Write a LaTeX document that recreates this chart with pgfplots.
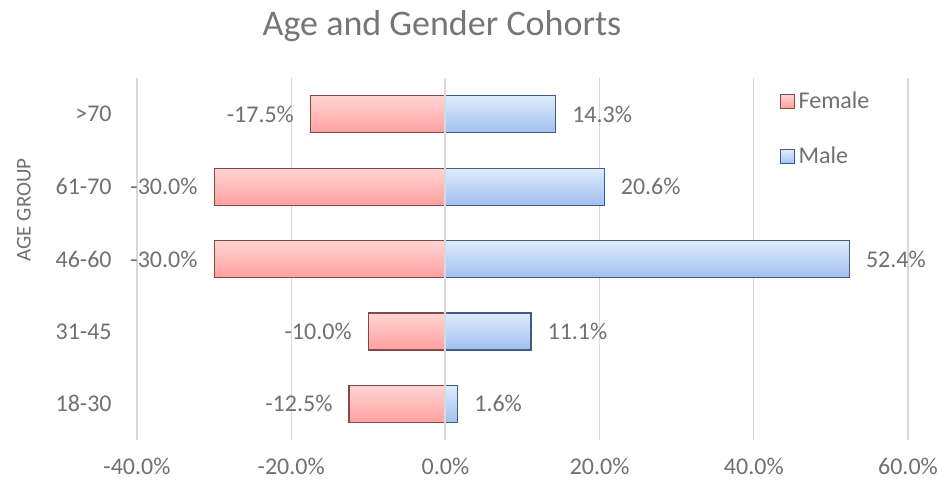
\documentclass[border=0pt]{standalone}
\usepackage{fontspec}
\setmainfont{Carlito}
\usepackage{pgfplots}
\pgfplotsset{compat=1.18}

\definecolor{txt}{RGB}{112,112,112}
\definecolor{ttl}{RGB}{118,118,118}
\definecolor{gridc}{RGB}{217,217,217}
\definecolor{fTop}{RGB}{255,212,212}
\definecolor{fBot}{RGB}{255,160,160}
\definecolor{fEdge}{RGB}{135,72,72}
\definecolor{mTop}{RGB}{224,236,252}
\definecolor{mBot}{RGB}{160,192,240}
\definecolor{mEdge}{RGB}{65,92,130}

\pgfplotsset{
  fbar/.style={bar shift=0pt, draw=fEdge, line width=0.6pt, top color=fTop, bottom color=fBot,
    every node near coord/.append style={anchor=east, xshift=-8pt}},
  mbar/.style={bar shift=0pt, draw=mEdge, line width=0.6pt, top color=mTop, bottom color=mBot,
    every node near coord/.append style={anchor=west, xshift=8pt}},
}

\begin{document}
\begin{tikzpicture}
  % 1px of the reference = 0.5pt, plot area lower left at (0,0)
  \useasboundingbox (-68.5pt,-22pt) rectangle (404.5pt,220pt);
  \begin{axis}[
      scale only axis,
      width=385.5pt,
      height=181pt,
      xbar,
      bar width=18.5pt,
      xmin=-40, xmax=60,
      ymin=-0.5, ymax=4.5,
      xtick={-40,-20,0,20,40,60},
      ytick={0,1,2,3,4},
      yticklabels={18-30,31-45,46-60,61-70,>70},
      axis line style={draw=none},
      major tick length=0pt,
      xmajorgrids,
      grid style={gridc, line width=0.6pt},
      /pgf/number format/assume math mode=true,
      xticklabel={\pgfmathprintnumber[fixed,fixed zerofill,precision=1]{\tick}\%},
      x tick label style={font=\fontsize{12}{14}\selectfont, text=txt, inner sep=0pt, anchor=north, yshift=-9pt},
      y tick label style={font=\fontsize{12}{14}\selectfont, text=txt, inner sep=0pt, anchor=east, xshift=-12.5pt},
      point meta=explicit symbolic,
      nodes near coords,
      nodes near coords style={font=\fontsize{12}{14}\selectfont, text=txt, inner sep=0pt},
      legend image code/.code={\draw[#1, line width=0.5pt] (0pt,-3.5pt) rectangle (7pt,3.5pt);},
      legend style={at={(rel axis cs:0.833,0.975)}, anchor=north west, draw=none, fill=none,
        inner sep=0pt, font=\fontsize{12}{14}\selectfont, text=txt, row sep=14pt,
        cells={anchor=west}},
      clip=false,
    ]
    % one plot per bar so that each bar gets its own gradient
    \addplot[fbar] coordinates {(-17.5,4) [-17.5\%]};
    \addplot[mbar] coordinates {(14.3,4) [14.3\%]};
    \addplot[fbar, forget plot] coordinates {(-30.0,3) [-30.0\%]};
    \addplot[mbar, forget plot] coordinates {(20.6,3) [20.6\%]};
    \addplot[fbar, forget plot] coordinates {(-30.0,2) [-30.0\%]};
    \addplot[mbar, forget plot] coordinates {(52.4,2) [52.4\%]};
    \addplot[fbar, forget plot] coordinates {(-10.0,1) [-10.0\%]};
    \addplot[mbar, forget plot] coordinates {(11.1,1) [11.1\%]};
    \addplot[fbar, forget plot] coordinates {(-12.5,0) [-12.5\%]};
    \addplot[mbar, forget plot] coordinates {(1.6,0) [1.6\%]};
    \legend{Female, Male}
    % light vertical axis line at zero, drawn over the bars
    \draw[gridc, line width=1pt] (axis cs:0,-0.5) -- (axis cs:0,4.5);
  \end{axis}
  \node[anchor=base, font=\fontsize{18}{21}\selectfont, text=ttl] at (152.5pt,202.5pt) {Age and Gender Cohorts};
  \node[rotate=90, font=\fontsize{10.5}{12}\selectfont, text=txt] at (-56.5pt,115pt) {AGE GROUP};
\end{tikzpicture}
\end{document}
